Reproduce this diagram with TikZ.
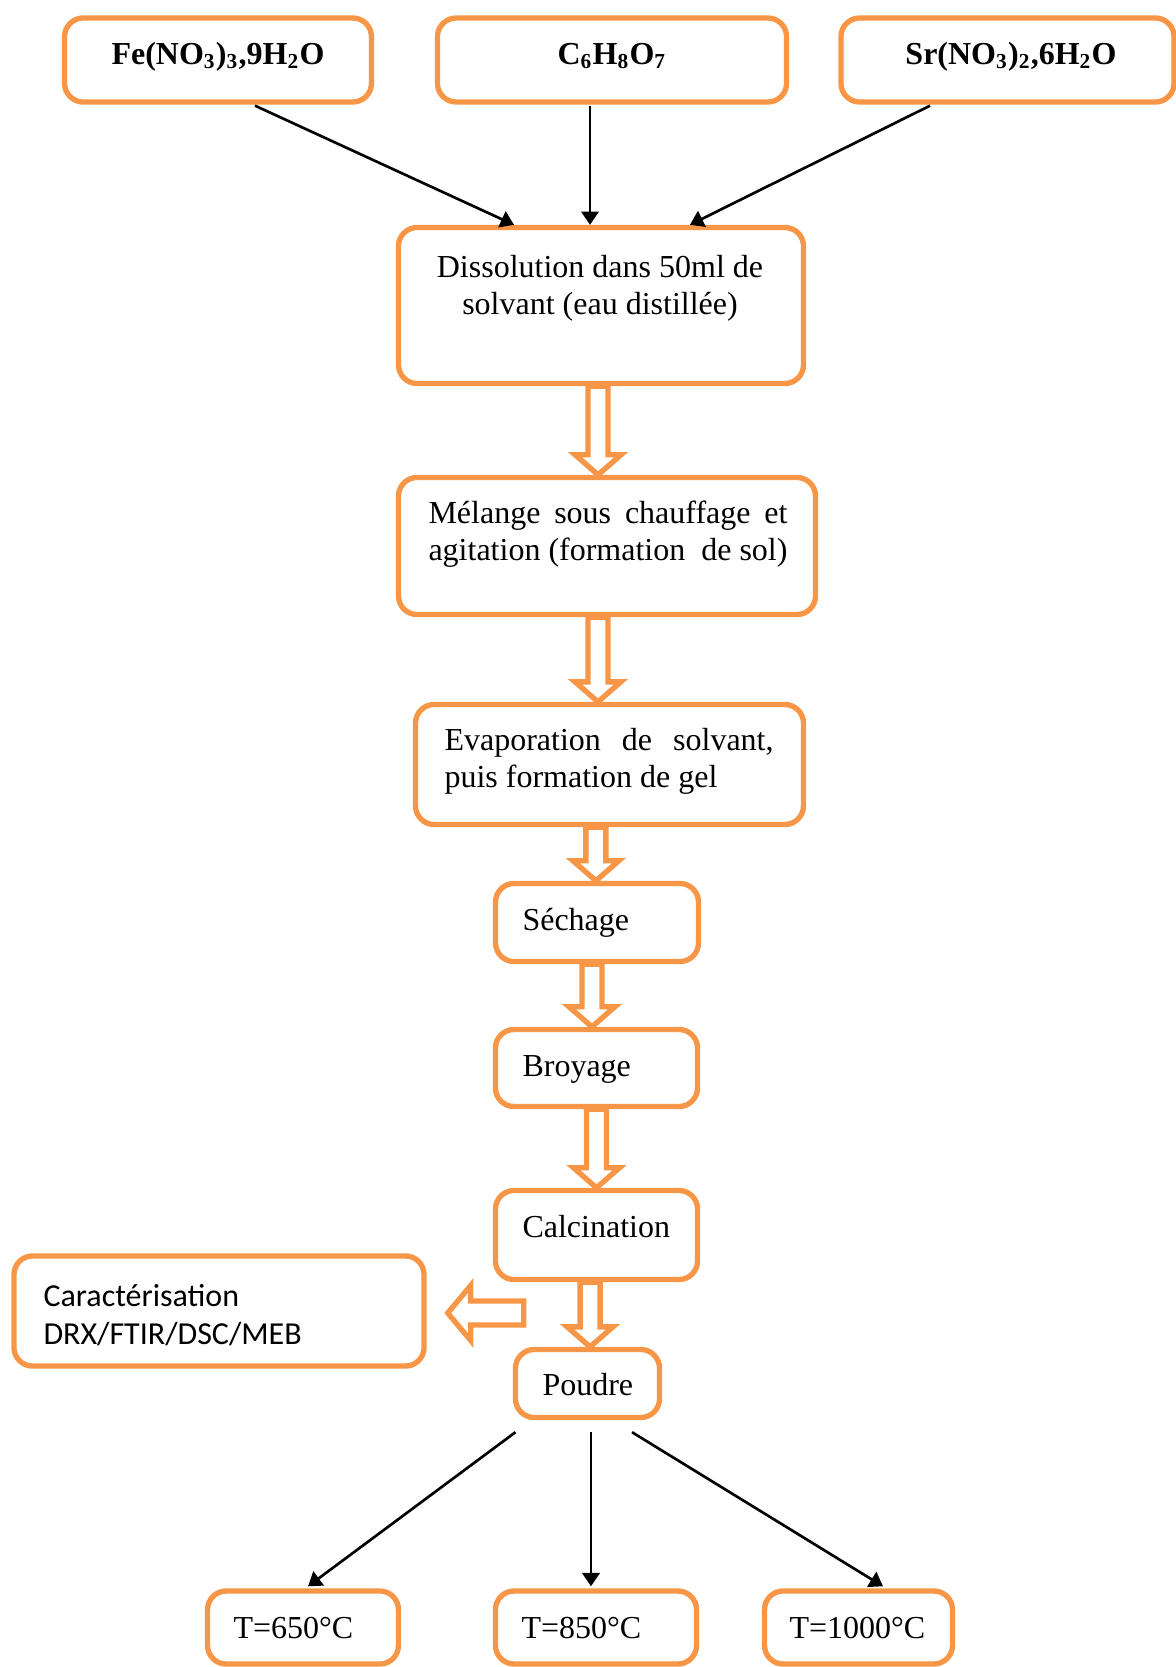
\documentclass[tikz,border=0pt]{standalone}
\usepackage{fontspec}
\setmainfont{Liberation Serif}
\newfontfamily\carlito{Carlito}
\usetikzlibrary{arrows.meta, calc}

\definecolor{orangeb}{HTML}{F79646}

\tikzset{
  boite/.style={draw=orangeb, line width=2pt, rounded corners=7pt, fill=white, inner sep=0pt},
  txt/.style={inner sep=0pt, font=\fontsize{12}{13.9}\selectfont},
  fleche/.style={-{Triangle[length=5pt,width=6.5pt]}, line width=1pt},
  creux/.style={draw=orangeb, line width=2pt, fill=white, line join=miter}
}

% fleche creuse verticale : [decalage] depart arrivee
\newcommand{\flechecreuse}[3][0pt]{%
  \draw[creux] let \p1=(#2.south), \p2=(#3.north) in
    ({\x1+(#1)},\y2) -- ++(-8.6pt,7.5pt) -- ++(4.85pt,0pt) -- ({\x1+(#1)-3.75pt},\y1)
    -- ({\x1+(#1)+3.75pt},\y1) -- ({\x1+(#1)+3.75pt},\y2+7.5pt) -- ++(4.85pt,0pt) -- cycle;}

\begin{document}
\begin{tikzpicture}[x=0.375pt, y=-0.375pt]
  \useasboundingbox (0,0) rectangle (1176,1667);

  \node[boite, minimum width=115.1pt, minimum height=31.5pt] (b0) at (218,60) {};
  \node[boite, minimum width=130.9pt, minimum height=31.5pt] (b1) at (612,60) {};
  \node[boite, minimum width=124.9pt, minimum height=31.5pt] (b2) at (1007.5,60) {};
  \node[boite, minimum width=151.9pt, minimum height=58.5pt] (b3) at (601,305.5) {};
  \node[boite, minimum width=156.4pt, minimum height=51.4pt] (b4) at (607,546) {};
  \node[boite, minimum width=145.5pt, minimum height=45pt] (b5) at (609.5,764.5) {};
  \node[boite, minimum width=76.1pt, minimum height=29.3pt] (b6) at (597,922.5) {};
  \node[boite, minimum width=75.8pt, minimum height=28.9pt] (b7) at (596.5,1068) {};
  \node[boite, minimum width=75.8pt, minimum height=33.4pt] (b8) at (596.5,1235) {};
  \node[boite, minimum width=54pt, minimum height=25.5pt] (b9) at (587.5,1383.5) {};
  \node[boite, minimum width=153.8pt, minimum height=41.3pt] (b10) at (219,1311) {};
  \node[boite, minimum width=71.6pt, minimum height=27.4pt] (b11) at (303,1627.5) {};
  \node[boite, minimum width=75.4pt, minimum height=27.4pt] (b12) at (596,1627.5) {};
  \node[boite, minimum width=70.5pt, minimum height=27.4pt] (b13) at (858.5,1627.5) {};

  \node[txt, anchor=base] (l0) at (218,64) {\bfseries Fe(NO\textsubscript{3})\textsubscript{3},9H\textsubscript{2}O};
  \node[txt, anchor=base] (l1) at (612,64) {\bfseries C\textsubscript{6}H\textsubscript{8}O\textsubscript{7}};
  \node[txt, anchor=base] (l2) at (1011,64) {\bfseries Sr(NO\textsubscript{3})\textsubscript{2},6H\textsubscript{2}O};
  \node[txt, anchor=base] (l3) at (600,277) {\parbox[t]{150pt}{\centering Dissolution dans 50ml de\\ solvant (eau distillée)}};
  \node[txt, anchor=base west] (l4) at (428,523) {\parbox[t]{134.6pt}{\makebox[134.6pt][s]{Mélange sous chauffage et}\\ \makebox[134.6pt][s]{agitation (formation \ de sol)}}};
  \node[txt, anchor=base west] (l5) at (444,750) {\parbox[t]{130pt}{\makebox[123.4pt][s]{Evaporation de solvant,}\\ puis formation de gel}};
  \node[txt, anchor=base west] (l6) at (522,930) {Séchage};
  \node[txt, anchor=base west] (l7) at (522,1076) {Broyage};
  \node[txt, anchor=base west] (l8) at (522,1237) {Calcination};
  \node[txt, anchor=base west] (l9) at (542,1395) {Poudre};
  \node[txt, anchor=base west, font=\carlito\fontsize{12}{14.3}\selectfont] (l10) at (43,1306) {\parbox[t]{140pt}{Caractérisation\\ DRX/FTIR/DSC/MEB}};
  \node[txt, anchor=base west] (l11) at (233,1638) {T=650°C};
  \node[txt, anchor=base west] (l12) at (521,1638) {T=850°C};
  \node[txt, anchor=base west] (l13) at (789,1638) {T=1000°C};

  % precurseurs
  \draw[fleche] ($(b0.south)+(37,1)$) -- ($(b3.north)+(-87,0)$);
  \draw[fleche] ($(b1.south)+(-22,1)$) -- ($(b3.north)+(-11,0)$);
  \draw[fleche] ($(b2.south)+(-77.5,1)$) -- ($(b3.north)+(89,0)$);

  % etapes
  \flechecreuse[-1.1pt]{b3}{b4}
  \flechecreuse[-3.4pt]{b4}{b5}
  \flechecreuse[-5.1pt]{b5}{b6}
  \flechecreuse[-1.9pt]{b6}{b7}
  \flechecreuse{b7}{b8}
  \flechecreuse[-2.4pt]{b8}{b9}
  \draw[creux] let \p1=($(b10.east)+(21,2)$) in
    (\x1,\y1) -- ++(8.6pt,10.3pt) -- ++(0pt,-5.8pt) -- ++(19.9pt,0pt)
    -- ++(0pt,-9pt) -- ++(-19.9pt,0pt) -- ++(0pt,-5.8pt) -- cycle;

  % temperatures
  \draw[fleche] ($(b9.south)+(-72,12)$) -- ($(b11.north)+(5,-2)$);
  \draw[fleche] ($(b9.south)+(3.5,12)$) -- ($(b12.north)+(-5,-2)$);
  \draw[fleche] ($(b9.south)+(44.5,12)$) -- ($(b13.north)+(24.5,-2)$);
\end{tikzpicture}
\end{document}
